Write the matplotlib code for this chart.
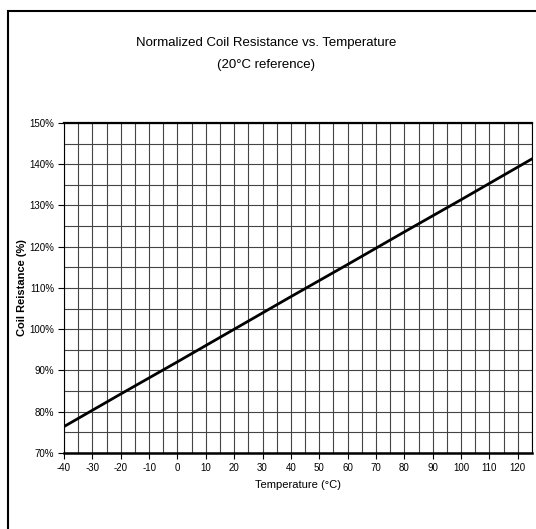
import numpy as np
import matplotlib.pyplot as plt
from matplotlib.ticker import MultipleLocator, FuncFormatter
from matplotlib.patches import Rectangle

temps = [-40, -20, 0, 20, 40, 60, 80, 100, 125]
resistance = [76.4, 84.3, 92.1, 100.0, 107.9, 115.7, 123.6, 131.4, 141.3]

plt.rcParams['font.family'] = ['Liberation Sans', 'DejaVu Sans']
plt.rcParams['axes.unicode_minus'] = False

fig = plt.figure(figsize=(5.36, 5.29), dpi=100)
ax = fig.add_axes([0.1194, 0.1437, 0.8731, 0.6238])

# outer chart frame
fig.patches.append(Rectangle((8 / 536, -0.01), 1.0, (529 - 11) / 529 + 0.01,
                             transform=fig.transFigure, fill=False,
                             edgecolor='black', linewidth=1.5))

ax.plot(temps, resistance, color='black', linewidth=2)

ax.set_xlim(-40, 125)
ax.set_ylim(70, 150)
ax.xaxis.set_major_locator(MultipleLocator(10))
ax.xaxis.set_minor_locator(MultipleLocator(5))
ax.yaxis.set_major_locator(MultipleLocator(10))
ax.yaxis.set_minor_locator(MultipleLocator(5))
ax.yaxis.set_major_formatter(FuncFormatter(lambda v, p: f"{v:.0f}%"))

ax.grid(True, which='both', color='#444444', linewidth=0.8)
ax.tick_params(which='major', length=4, width=0.8, labelsize=7, pad=3)
ax.tick_params(which='minor', length=0)

for side in ['left', 'right']:
    ax.spines[side].set_linewidth(0.8)
ax.spines['top'].set_linewidth(1.6)
ax.spines['bottom'].set_linewidth(1.8)

ax.set_xlabel('Temperature (°C)', fontsize=8)
ax.xaxis.set_label_coords(0.5, -(485 - 453) / 330)
ax.xaxis.label.set_va('center')
ax.set_ylabel('Coil Reistance (%)', fontsize=8, fontweight='bold')
ax.yaxis.set_label_coords(-(64 - 22) / 468, 0.5)
ax.yaxis.label.set_va('center')

fig.text(0.497, 1 - 43 / 529, 'Normalized Coil Resistance vs. Temperature',
         ha='center', va='center', fontsize=9.5)
fig.text(0.497, 1 - 65 / 529, '(20°C reference)',
         ha='center', va='center', fontsize=9.5)

fig.savefig('out.png', dpi=100)
